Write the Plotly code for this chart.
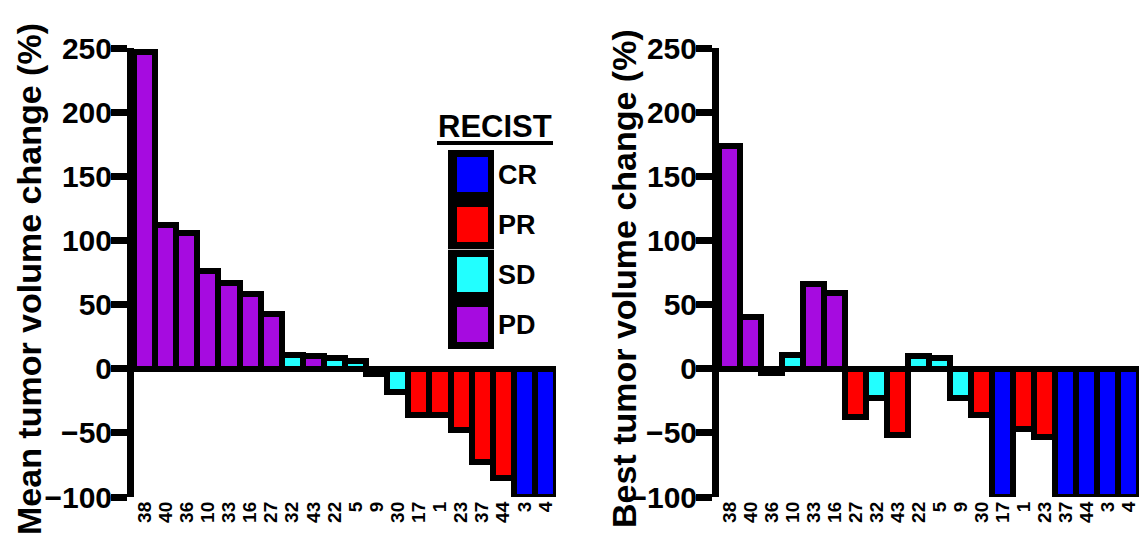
import plotly.graph_objects as go

W, H = 1139, 535

categories = ["38", "40", "36", "10", "33", "16", "27", "32", "43", "22",
              "5", "9", "30", "17", "1", "23", "37", "44", "3", "4"]
mean_change = [247, 112, 106, 76, 67, 58, 43, 11, 10, 8,
               6, -4, -18, -36, -36, -48, -73, -85, -100, -100]
mean_recist = ["PD", "PD", "PD", "PD", "PD", "PD", "PD", "SD", "PD", "SD",
               "SD", "SD", "SD", "PR", "PR", "PR", "PR", "PR", "CR", "CR"]
best_change = [174, 40, -3, 11, 66, 59, -38, -23, -52, 10,
               8, -23, -36, -100, -47, -53, -100, -100, -100, -100]
best_recist = ["PD", "PD", "SD", "SD", "PD", "PD", "PR", "SD", "PR", "SD",
               "SD", "SD", "PR", "CR", "PR", "PR", "CR", "CR", "CR", "CR"]
legend_labels = ["CR", "PR", "SD", "PD"]
y_ticks = [-100, -50, 0, 50, 100, 150, 200, 250]

colors = {"CR": "#0000FF", "PR": "#FF0000", "SD": "#22FFFF", "PD": "#A60BE0"}
FONT = "Liberation Sans, Arial, sans-serif"

fig = go.Figure()
for vals, rec, xa, ya in [(mean_change, mean_recist, "x", "y"),
                          (best_change, best_recist, "x2", "y2")]:
    fig.add_trace(go.Bar(
        x=categories, y=vals, xaxis=xa, yaxis=ya,
        marker=dict(color=[colors[r] for r in rec],
                    line=dict(color="black", width=6)),
        showlegend=False,
    ))

ydom = [38 / H, 1 - 48 / H]
yax = dict(range=[-100, 250], tickmode="array", tickvals=y_ticks,
           showgrid=False, zeroline=False,
           showline=True, linecolor="black", linewidth=7,
           ticks="outside", ticklen=16, tickwidth=7, tickcolor="black",
           ticklabelstandoff=-7,
           tickfont=dict(family=FONT, size=30, color="black", weight="bold"),
           automargin=False, domain=ydom)
xax = dict(type="category", range=[-0.5, 19.5], tickmode="array",
           tickvals=categories, ticktext=categories,
           showgrid=False, zeroline=False,
           showline=False, ticks="", tickangle=-90,
           tickfont=dict(family=FONT, size=19, color="black", weight="bold"),
           automargin=False)

fig.update_layout(
    width=W, height=H, margin=dict(l=0, r=0, t=0, b=0),
    paper_bgcolor="white", plot_bgcolor="white", bargap=0,
    xaxis=dict(xax, domain=[134 / W, 556 / W], anchor="y"),
    yaxis=dict(yax, anchor="x"),
    xaxis2=dict(xax, domain=[719 / W, 1.0], anchor="y2"),
    yaxis2=dict(yax, anchor="x2"),
)

def px(x):
    return x / W

def py(y):
    return 1 - y / H

# axis titles
for text, xc, yc in [("Mean tumor volume change (%)", 29, 279),
                     ("Best tumor volume change (%)", 624, 279)]:
    fig.add_annotation(text=text, xref="paper", yref="paper", x=px(xc), y=py(yc),
                       xanchor="center", yanchor="middle", textangle=-90, showarrow=False,
                       font=dict(family=FONT, size=34, color="black", weight="bold"))

# legend
shapes = []
shapes.append(dict(type="rect", xref="paper", yref="paper", x0=px(448), x1=px(494),
                   y0=py(150), y1=py(349), fillcolor="black", line=dict(width=0)))
shapes.append(dict(type="line", xref="paper", yref="paper", x0=px(448), x1=px(494),
                   y0=py(249.5), y1=py(249.5), line=dict(color="#bbbbbb", width=1)))
shapes.append(dict(type="line", xref="paper", yref="paper", x0=px(437), x1=px(553),
                   y0=py(143), y1=py(143), line=dict(color="black", width=4)))
tops = [157, 207, 257, 307]
for lab, t in zip(legend_labels, tops):
    shapes.append(dict(type="rect", xref="paper", yref="paper", x0=px(457), x1=px(488),
                       y0=py(t), y1=py(t + 35), fillcolor=colors[lab], line=dict(width=0)))
    fig.add_annotation(text=lab, xref="paper", yref="paper", x=px(496), y=py(t + 18),
                       xanchor="left", yanchor="middle", showarrow=False,
                       font=dict(family=FONT, size=27, color="black", weight="bold"))
fig.add_annotation(text="RECIST", xref="paper", yref="paper", x=px(495), y=py(127),
                   xanchor="center", yanchor="middle", showarrow=False,
                   font=dict(family=FONT, size=31, color="black", weight="bold"))
fig.update_layout(shapes=shapes)

fig.write_html("out.html")
